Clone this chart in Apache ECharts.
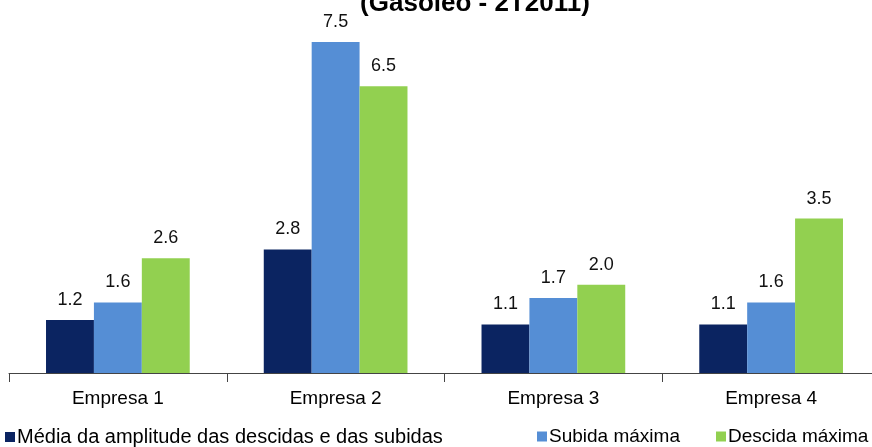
<!DOCTYPE html>
<html>
<head>
<meta charset="utf-8">
<script src="https://cdn.jsdelivr.net/npm/echarts@6/dist/echarts.min.js"></script>
<style>
html,body{margin:0;padding:0;background:#fff;overflow:hidden;width:872px;height:447px;}
#c{width:900px;height:447px;}
</style>
</head>
<body>
<div id="c"></div>
<script>
const categories = ['Empresa 1', 'Empresa 2', 'Empresa 3', 'Empresa 4'];
const seriesNames = ['Média da amplitude das descidas e das subidas', 'Subida máxima', 'Descida máxima'];
const mediaValues = [1.2, 2.8, 1.1, 1.1];
const subidaValues = [1.6, 7.5, 1.7, 1.6];
const descidaValues = [2.6, 6.5, 2.0, 3.5];
const colors = ['#0b2461', '#558ed5', '#92d050'];
const titleText = '(Gasóleo - 2T2011)';

const chart = echarts.init(document.getElementById('c'), null, {renderer: 'canvas'});
const font = 'Liberation Sans, Arial, sans-serif';
const dataSets = [mediaValues, subidaValues, descidaValues];
const legendLefts = [5, 537, 716];
const legendSizes = [20, 19, 19];

chart.setOption({
  animation: false,
  backgroundColor: '#fff',
  title: {
    text: titleText,
    left: 470, top: -14,
    textAlign: 'center',
    textStyle: {fontFamily: font, fontSize: 26, fontWeight: 'bold', color: '#000'}
  },
  legend: seriesNames.map((n, i) => ({
    data: [n],
    left: legendLefts[i], top: 427,
    padding: 0,
    itemWidth: 10, itemHeight: 10, itemGap: 0,
    icon: 'rect',
    textStyle: {fontFamily: font, fontSize: legendSizes[i], color: '#000', padding: [0, 0, 0, -3]}
  })),
  grid: {left: 9, width: 871, top: 20, bottom: 74, containLabel: false},
  xAxis: {
    type: 'category',
    data: categories,
    axisLine: {show: true, lineStyle: {color: '#444', width: 1}},
    axisTick: {show: true, length: 9, lineStyle: {color: '#444'}},
    axisLabel: {fontFamily: font, fontSize: 19, color: '#000', margin: 16}
  },
  yAxis: {
    type: 'value', min: 0, max: 8,
    show: false, splitLine: {show: false}
  },
  series: seriesNames.map((n, i) => ({
    name: n,
    type: 'bar',
    data: dataSets[i],
    barGap: '0%',
    barCategoryGap: '34%',
    itemStyle: {color: colors[i]},
    label: {
      show: true, position: 'top', distance: 11,
      formatter: p => p.value.toFixed(1),
      fontFamily: font, fontSize: 18, color: '#111'
    }
  }))
});
</script>
</body>
</html>
